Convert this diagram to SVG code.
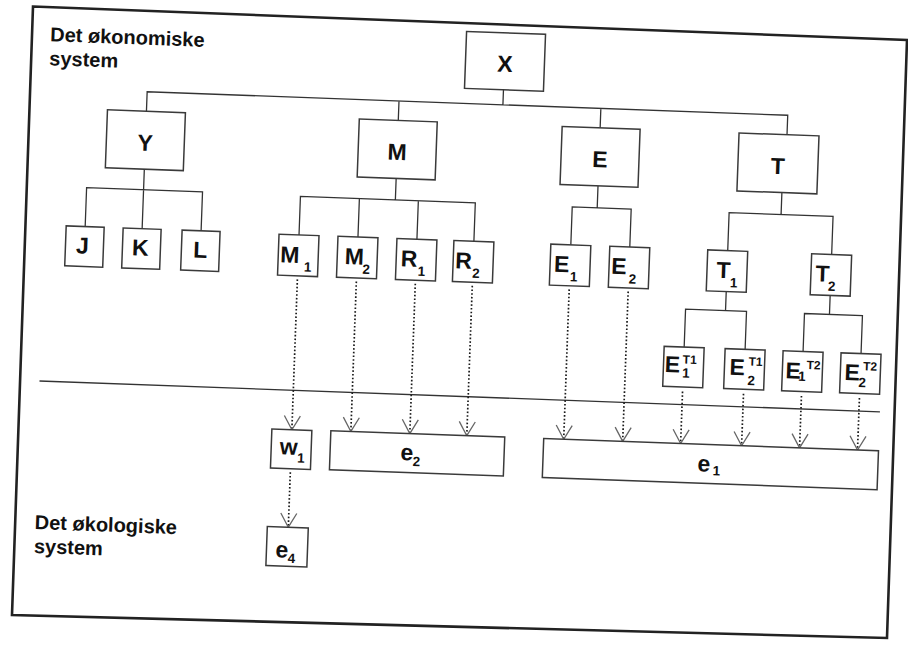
<svg xmlns="http://www.w3.org/2000/svg" width="908" height="645" viewBox="0 0 908 645">
  <style>
    .frame { fill: none; stroke: #222; stroke-width: 2.6; stroke-linejoin: miter }
    .box { fill: #fff; stroke: #3a3a3a; stroke-width: 1.5 }
    .ln { fill: none; stroke: #333; stroke-width: 1.3 }
    .dot { fill: none; stroke: #1a1a1a; stroke-width: 1.7; stroke-dasharray: 1.6 2.1; marker-end: url(#vh) }
    .t { font-family: "Liberation Sans", Arial, Helvetica, sans-serif; font-weight: bold; fill: #111 }
    .big { font-size: 23px }
    .sm { font-size: 13.5px }
    .sup { font-size: 12px }
    .ttl { font-size: 20px }
    .mid { text-anchor: middle }
  </style>
  <defs>
    <marker id="vh" markerUnits="userSpaceOnUse" markerWidth="20" markerHeight="20" refX="8" refY="14" orient="0" overflow="visible">
      <path d="M0,0 L8,14 L16,0" fill="none" stroke="#666" stroke-width="1.3"/>
    </marker>
  </defs>

  <rect width="908" height="645" fill="#fff"/>

  <!-- outer frame of the figure -->
  <polygon class="frame" points="33,6.5 907,40 887,638 12,615"/>

  <g transform="rotate(2.1 450 320)">
    <!-- system headings -->
    <g id="heading-economic">
      <text class="t ttl" x="40" y="56">Det økonomiske</text>
      <text class="t ttl" x="40" y="80">system</text>
    </g>
    <g id="heading-ecological">
      <text class="t ttl" x="42.5" y="544">Det økologiske</text>
      <text class="t ttl" x="42.5" y="568">system</text>
    </g>

    <!-- tree links, divider and flows -->
    <g id="connectors">
      <path class="ln" d="M495,88 V103 M139,122.5 V103 H780 V122.5 M391,103 V122.5 M593,103 V122.5"/>
      <path class="ln" d="M139,180.5 V240 M82,240 V201 H198 V240"/>
      <path class="ln" d="M391,180.5 V202 M296,240.5 V202 H471 V240.5 M355,202 V240.5 M414,202 V240.5"/>
      <path class="ln" d="M593,180.5 V202.5 M568,240.5 V202.5 H627 V240.5"/>
      <path class="ln" d="M777,180.5 V202.5 M725,240.5 V202.5 H829 V240.5"/>
      <path class="ln" d="M725,281.5 V300.5 M685,338.5 V300.5 H746 V338.5"/>
      <path class="ln" d="M829,281.5 V300.5 M804,338.5 V300.5 H862 V338.5"/>
      <path class="ln" d="M42,396 H883"/>
      <path class="dot" d="M296,285 V435.5"/>
      <path class="dot" d="M296,478 V533"/>
      <path class="dot" d="M355,285 V435"/>
      <path class="dot" d="M414,285 V435"/>
      <path class="dot" d="M471,285 V435"/>
      <path class="dot" d="M568,285 V435"/>
      <path class="dot" d="M627,285 V435"/>
      <path class="dot" d="M685,383 V435"/>
      <path class="dot" d="M746,383 V435"/>
      <path class="dot" d="M804,383 V435"/>
      <path class="dot" d="M862,383 V435"/>
    </g>

    <!-- top level -->
    <g id="X"><rect class="box" x="456" y="31" width="79" height="57"/><text class="t big mid" x="495.5" y="70">X</text></g>

    <!-- second level -->
    <g id="Y"><rect class="box" x="100" y="122.5" width="78" height="58"/><text class="t big mid" x="139" y="162">Y</text></g>
    <g id="M"><rect class="box" x="352" y="122.5" width="78" height="58"/><text class="t big mid" x="391" y="162">M</text></g>
    <g id="E"><rect class="box" x="555" y="122.5" width="78" height="58"/><text class="t big mid" x="594" y="162">E</text></g>
    <g id="T"><rect class="box" x="732" y="122.5" width="80" height="58"/><text class="t big mid" x="772" y="162">T</text></g>

    <!-- third level -->
    <g id="J"><rect class="box" x="63" y="240" width="38" height="40"/><text class="t big mid" x="80" y="267">J</text></g>
    <g id="K"><rect class="box" x="120" y="240" width="38" height="40"/><text class="t big mid" x="138" y="267">K</text></g>
    <g id="L"><rect class="box" x="179" y="240" width="38" height="40"/><text class="t big mid" x="198" y="267">L</text></g>

    <g id="M1"><rect class="box" x="276" y="240.5" width="40" height="41"/><text class="t big" x="278" y="268.5">M<tspan class="sm" x="302" y="277">1</tspan></text></g>
    <g id="M2"><rect class="box" x="335" y="240.5" width="40" height="41"/><text class="t big" x="342.5" y="268">M<tspan class="sm" x="360.5" y="277">2</tspan></text></g>
    <g id="R1"><rect class="box" x="394" y="240.5" width="40" height="41"/><text class="t big" x="398.5" y="268">R<tspan class="sm" x="416" y="277">1</tspan></text></g>
    <g id="R2"><rect class="box" x="451" y="240.5" width="40" height="41"/><text class="t big" x="453.2" y="268">R<tspan class="sm" x="470.5" y="277">2</tspan></text></g>

    <g id="E1"><rect class="box" x="548" y="240.5" width="40" height="41"/><text class="t big" x="552" y="268">E<tspan class="sm" x="568.3" y="277">1</tspan></text></g>
    <g id="E2"><rect class="box" x="607" y="240.5" width="40" height="41"/><text class="t big" x="609.3" y="268">E<tspan class="sm" x="627" y="277">2</tspan></text></g>

    <g id="T1"><rect class="box" x="705" y="240.5" width="40" height="41"/><text class="t big" x="714.6" y="268">T<tspan class="sm" x="728.3" y="277">1</tspan></text></g>
    <g id="T2"><rect class="box" x="809" y="240.5" width="40" height="41"/><text class="t big" x="813.6" y="268">T<tspan class="sm" x="826.5" y="277">2</tspan></text></g>

    <!-- fourth level -->
    <g id="E1T1"><rect class="box" x="665" y="338.5" width="40" height="40"/>
      <text class="t big" x="666.2" y="364">E</text><text class="t sup" x="684" y="355">T1</text><text class="t sm" x="684" y="369">1</text></g>
    <g id="E2T1"><rect class="box" x="726" y="338.5" width="40" height="40"/>
      <text class="t big" x="731.2" y="364.5">E</text><text class="t sup" x="750" y="354.5">T1</text><text class="t sm" x="749.5" y="374">2</text></g>
    <g id="E1T2"><rect class="box" x="784" y="338.5" width="40" height="40"/>
      <text class="t big" x="787.2" y="366">E</text><text class="t sup" x="808" y="356">T2</text><text class="t sm" x="800" y="368">1</text></g>
    <g id="E2T2"><rect class="box" x="842" y="338.5" width="40" height="40"/>
      <text class="t big" x="846.2" y="365.5">E</text><text class="t sup" x="864.5" y="355">T2</text><text class="t sm" x="860.5" y="372">2</text></g>

    <!-- ecological system -->
    <g id="w1"><rect class="box" x="276" y="435.5" width="40" height="39"/><text class="t big" x="284.6" y="460.5">w<tspan class="sm" x="302.4" y="468">1</tspan></text></g>
    <g id="e4"><rect class="box" x="275" y="533" width="41" height="39"/><text class="t big" x="284" y="563.5">e<tspan class="sm" x="296.6" y="568.5">4</tspan></text></g>
    <g id="e2"><rect class="box" x="335" y="435" width="174" height="39"/><text class="t big" x="405.4" y="461.8">e<tspan class="sm" x="418" y="467.3">2</tspan></text></g>
    <g id="e1"><rect class="box" x="548" y="435" width="335" height="39"/><text class="t big" x="702.7" y="462">e<tspan class="sm" x="718" y="465.5">1</tspan></text></g>
  </g>
</svg>
